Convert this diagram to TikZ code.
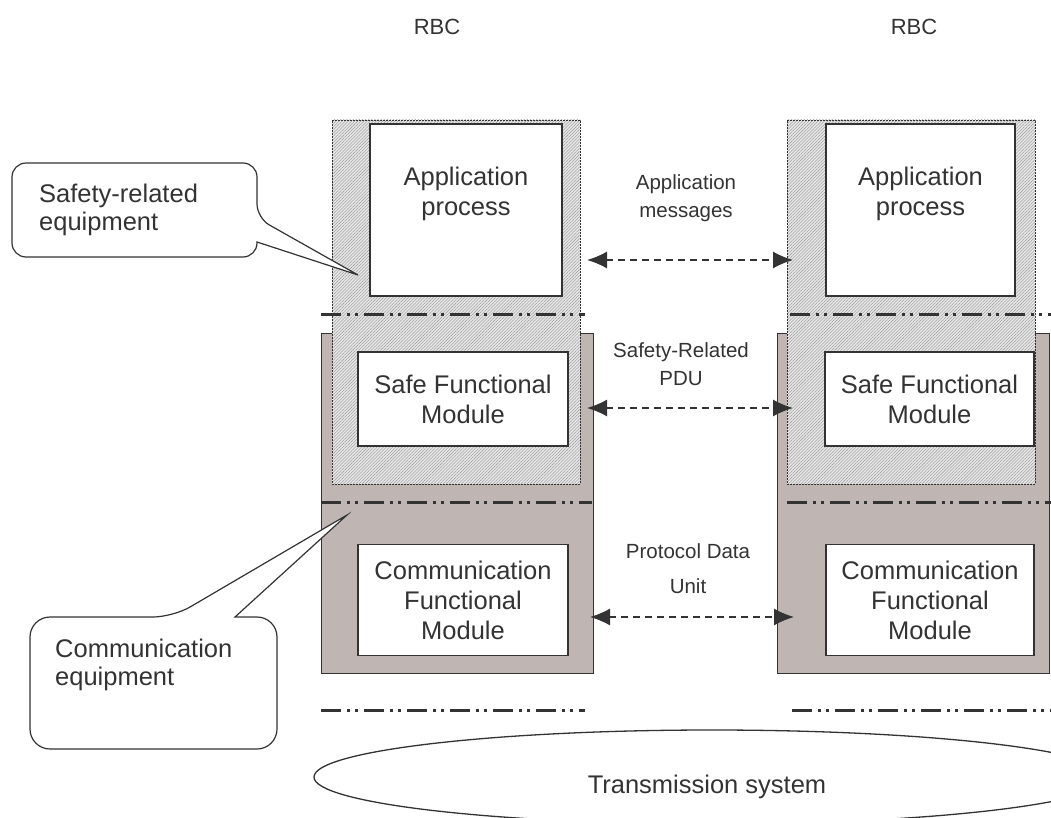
\documentclass[tikz,border=0pt]{standalone}
\usepackage{fontspec}
\setmainfont{Liberation Sans}
\usetikzlibrary{shapes}
\usetikzlibrary{positioning}
\usetikzlibrary{arrows.meta}
\usetikzlibrary{patterns.meta}

\definecolor{commgray}{RGB}{191,182,180}
\definecolor{ink}{RGB}{51,51,51}

\begin{document}
\begin{tikzpicture}[x=1pt, y=-1pt,
        every node/.style = {text=ink, inner sep=0pt},
        commzone/.style = {draw=ink, line width=0.9pt, fill=commgray,
            minimum width=272pt, minimum height=340pt},
        safezone/.style = {draw=ink, line width=0.5pt, dash pattern=on 2pt off 1pt,
            preaction={fill=gray!18},
            pattern={Lines[angle=45, distance=2.2pt, line width=0.55pt]},
            pattern color=gray!75, minimum width=248pt, minimum height=364pt},
        modbox/.style = {draw=ink, line width=1.6pt, fill=white},
        boxtext/.style = {align=center, font=\fontsize{25.5}{30}\selectfont},
        msgtext/.style = {align=center, font=\fontsize{20.5}{28}\selectfont},
        notetext/.style = {align=left, font=\fontsize{25.5}{28}\selectfont},
        bubble/.style = {draw=ink, line width=1.2pt, fill=white},
        layer/.style = {draw=ink, line width=3pt,
            dash pattern=on 20pt off 6pt on 3pt off 5pt on 3pt off 6pt},
        msg/.style = {draw=ink, line width=1.4pt, dash pattern=on 7pt off 5pt,
            {Latex[length=20pt,width=17pt]}-{Latex[length=20pt,width=17pt]}}]
        \useasboundingbox (0,0) rectangle (1051,818);
        \clip (0,0) rectangle (1051,818);

        % RBC columns
        \node[font=\fontsize{22}{26}\selectfont] (rbcL) at (437,27) {RBC};
        \node[font=\fontsize{22}{26}\selectfont] (rbcR) at (914,27) {RBC};

        \node[commzone] (commL) at (457,503) {};
        \node[commzone] (commR) at (913,503) {};
        \node[safezone] (safeL) at (456,302) {};
        \node[safezone] (safeR) at (911,302) {};

        % layer borders
        \draw[layer] (321,314) -- (585,314);
        \draw[layer] (790,314) -- (1051,314);
        \draw[layer] (321,502) -- (592,502);
        \draw[layer] (787,502) -- (1051,502);
        \draw[layer] (321,710) -- (585,710);
        \draw[layer] (792,710) -- (1051,710);

        % modules
        \node[modbox, minimum width=192pt, minimum height=172pt] (appL) at (466,210) {};
        \node[modbox, minimum width=189pt, minimum height=172pt] (appR) at (920.5,210) {};
        \node[boxtext, yshift=16pt] at (appL.center) {Application\\process};
        \node[boxtext, yshift=16pt] at (appR.center) {Application\\process};
        \node[modbox, boxtext, minimum width=210pt, minimum height=94pt] (sfmL) at (463,399)
            {Safe Functional\\Module};
        \node[modbox, boxtext, minimum width=209pt, minimum height=94pt] (sfmR) at (929.5,399)
            {Safe Functional\\Module};
        \node[modbox, boxtext, minimum width=210pt, minimum height=111pt] (cfmL) at (463,600)
            {Communication\\Functional\\Module};
        \node[modbox, boxtext, minimum width=208pt, minimum height=111pt] (cfmR) at (930,600)
            {Communication\\Functional\\Module};

        % peer messages
        \coordinate (appmsgL) at (587,260);
        \coordinate (appmsgR) at (793,260);
        \coordinate (pduL) at (587,408);
        \coordinate (pduR) at (793,408);
        \coordinate (dataL) at (590,617);
        \coordinate (dataR) at (794,617);
        \draw[msg] (appmsgL) -- (appmsgR);
        \draw[msg] (pduL) -- (pduR);
        \draw[msg] (dataL) -- (dataR);
        \node[msgtext] (appmsg) at (686,198) {Application\\messages};
        \node[msgtext] (pdu) at (681,364) {Safety-Related\\PDU};
        \node[msgtext] (data) at (688,569) {Protocol Data\\[7pt]Unit};

        % callouts
        \draw[bubble] [rounded corners=14pt] (12,210) |- (257,163) -- (257,218)
            [sharp corners] -- (358,275) -- (257,242)
            [rounded corners=14pt] |- (12,257) -- cycle;
        \node[notetext, anchor=north west] (safetynote) at (39,184) {Safety-related\\equipment};
        \draw[bubble] [rounded corners=20pt] (30,680) |- (173,617)
            [sharp corners] -- (347,515) -- (235,617)
            [rounded corners=20pt] -| (277,680) |- (30,749) -- cycle;
        \node[notetext, anchor=north west] (commnote) at (55,639) {Communication\\equipment};

        % transmission
        \node[draw=ink, line width=1.3pt, ellipse, minimum width=796pt, minimum height=94pt]
            (trans) at (712,777) {};
        \node[boxtext, xshift=-5pt, yshift=-10pt] at (trans.center) {Transmission system};
    \end{tikzpicture}
\end{document}
